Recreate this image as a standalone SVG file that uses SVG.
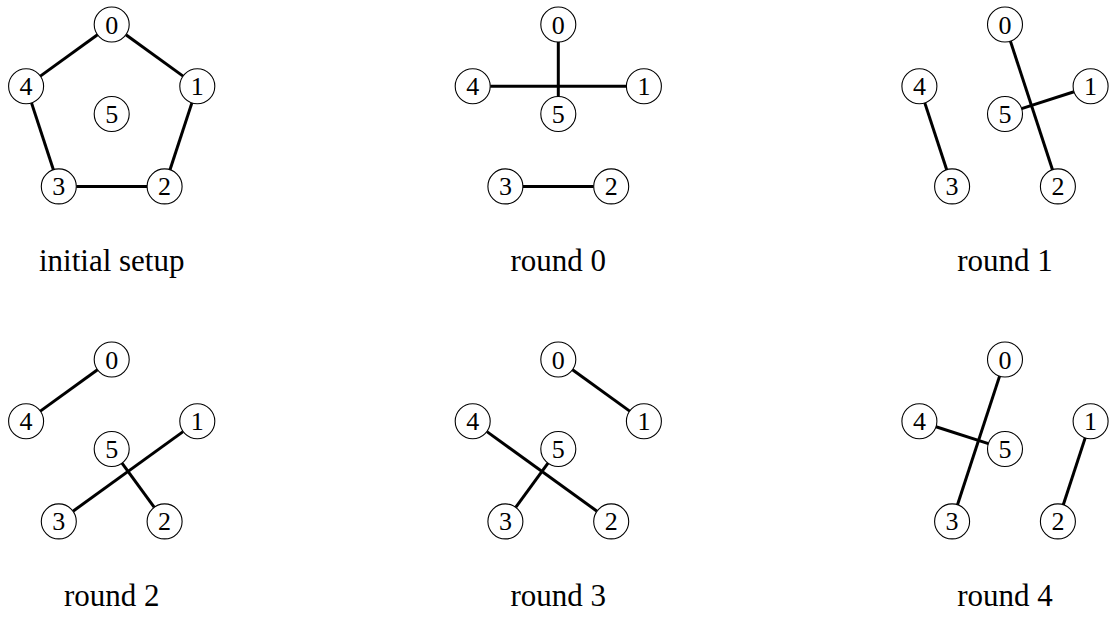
<svg xmlns="http://www.w3.org/2000/svg" width="1110" height="617" viewBox="0 0 1110 617">
  <style>
    .edge { stroke: #000; stroke-width: 3; stroke-linecap: butt; fill: none; }
    .node circle { fill: #fff; stroke: #000; stroke-width: 1.1; }
    .node text { font-family: "Liberation Serif", "DejaVu Serif", serif; font-size: 26px; text-anchor: middle; fill: #000; }
    .caption { font-family: "Liberation Serif", "DejaVu Serif", serif; font-size: 31px; text-anchor: middle; fill: #000; }
  </style>
  <defs>
    <!-- node positions shared by every panel: pentagon 0..4 around centre node 5 -->
  </defs>
  <rect width="1110" height="617" fill="#fff"/>

  <!-- initial setup -->
  <g id="panel-initial" transform="translate(0,0)">
    <g id="edges-initial">
      <line class="edge" x1="125.9" y1="34.7" x2="183.1" y2="76.1"/>
      <line class="edge" x1="191.9" y1="102.9" x2="170.0" y2="169.8"/>
      <line class="edge" x1="147.1" y1="186.4" x2="76.3" y2="186.4"/>
      <line class="edge" x1="53.4" y1="169.8" x2="31.5" y2="102.9"/>
      <line class="edge" x1="40.3" y1="76.1" x2="97.5" y2="34.7"/>
    </g>
    <g id="init-n0" class="node"><circle cx="111.7" cy="24.5" r="17.5"/><text x="111.7" y="33.5">0</text></g>
    <g id="init-n1" class="node"><circle cx="197.3" cy="86.3" r="17.5"/><text x="197.3" y="95.3">1</text></g>
    <g id="init-n2" class="node"><circle cx="164.6" cy="186.4" r="17.5"/><text x="164.6" y="195.4">2</text></g>
    <g id="init-n3" class="node"><circle cx="58.8" cy="186.4" r="17.5"/><text x="58.8" y="195.4">3</text></g>
    <g id="init-n4" class="node"><circle cx="26.1" cy="86.3" r="17.5"/><text x="26.1" y="95.3">4</text></g>
    <g id="init-n5" class="node"><circle cx="111.7" cy="114" r="17.5"/><text x="111.7" y="123">5</text></g>
    <text class="caption" x="111.7" y="271">initial setup</text>
  </g>

  <!-- round 0 -->
  <g id="panel-round0" transform="translate(446.6,0)">
    <g id="edges-round0">
      <line class="edge" x1="111.7" y1="42" x2="111.7" y2="96.5"/>
      <line class="edge" x1="43.6" y1="86.3" x2="179.8" y2="86.3"/>
      <line class="edge" x1="76.3" y1="186.4" x2="147.1" y2="186.4"/>
    </g>
    <g id="r0-n0" class="node"><circle cx="111.7" cy="24.5" r="17.5"/><text x="111.7" y="33.5">0</text></g>
    <g id="r0-n1" class="node"><circle cx="197.3" cy="86.3" r="17.5"/><text x="197.3" y="95.3">1</text></g>
    <g id="r0-n2" class="node"><circle cx="164.6" cy="186.4" r="17.5"/><text x="164.6" y="195.4">2</text></g>
    <g id="r0-n3" class="node"><circle cx="58.8" cy="186.4" r="17.5"/><text x="58.8" y="195.4">3</text></g>
    <g id="r0-n4" class="node"><circle cx="26.1" cy="86.3" r="17.5"/><text x="26.1" y="95.3">4</text></g>
    <g id="r0-n5" class="node"><circle cx="111.7" cy="114" r="17.5"/><text x="111.7" y="123">5</text></g>
    <text class="caption" x="111.7" y="271">round 0</text>
  </g>

  <!-- round 1 -->
  <g id="panel-round1" transform="translate(893.3,0)">
    <g id="edges-round1">
      <line class="edge" x1="117.1" y1="41.1" x2="159.2" y2="169.8"/>
      <line class="edge" x1="128.3" y1="108.6" x2="180.7" y2="91.7"/>
      <line class="edge" x1="31.5" y1="102.9" x2="53.4" y2="169.8"/>
    </g>
    <g id="r1-n0" class="node"><circle cx="111.7" cy="24.5" r="17.5"/><text x="111.7" y="33.5">0</text></g>
    <g id="r1-n1" class="node"><circle cx="197.3" cy="86.3" r="17.5"/><text x="197.3" y="95.3">1</text></g>
    <g id="r1-n2" class="node"><circle cx="164.6" cy="186.4" r="17.5"/><text x="164.6" y="195.4">2</text></g>
    <g id="r1-n3" class="node"><circle cx="58.8" cy="186.4" r="17.5"/><text x="58.8" y="195.4">3</text></g>
    <g id="r1-n4" class="node"><circle cx="26.1" cy="86.3" r="17.5"/><text x="26.1" y="95.3">4</text></g>
    <g id="r1-n5" class="node"><circle cx="111.7" cy="114" r="17.5"/><text x="111.7" y="123">5</text></g>
    <text class="caption" x="111.7" y="271">round 1</text>
  </g>

  <!-- round 2 -->
  <g id="panel-round2" transform="translate(0,335)">
    <g id="edges-round2">
      <line class="edge" x1="97.5" y1="34.7" x2="40.3" y2="76.1"/>
      <line class="edge" x1="73.0" y1="176.2" x2="183.1" y2="96.6"/>
      <line class="edge" x1="122.0" y1="128.1" x2="154.3" y2="172.3"/>
    </g>
    <g id="r2-n0" class="node"><circle cx="111.7" cy="24.5" r="17.5"/><text x="111.7" y="33.5">0</text></g>
    <g id="r2-n1" class="node"><circle cx="197.3" cy="86.3" r="17.5"/><text x="197.3" y="95.3">1</text></g>
    <g id="r2-n2" class="node"><circle cx="164.6" cy="186.4" r="17.5"/><text x="164.6" y="195.4">2</text></g>
    <g id="r2-n3" class="node"><circle cx="58.8" cy="186.4" r="17.5"/><text x="58.8" y="195.4">3</text></g>
    <g id="r2-n4" class="node"><circle cx="26.1" cy="86.3" r="17.5"/><text x="26.1" y="95.3">4</text></g>
    <g id="r2-n5" class="node"><circle cx="111.7" cy="114" r="17.5"/><text x="111.7" y="123">5</text></g>
    <text class="caption" x="111.7" y="271">round 2</text>
  </g>

  <!-- round 3 -->
  <g id="panel-round3" transform="translate(446.6,335)">
    <g id="edges-round3">
      <line class="edge" x1="125.9" y1="34.7" x2="183.1" y2="76.1"/>
      <line class="edge" x1="40.3" y1="96.6" x2="150.4" y2="176.2"/>
      <line class="edge" x1="101.4" y1="128.1" x2="69.1" y2="172.3"/>
    </g>
    <g id="r3-n0" class="node"><circle cx="111.7" cy="24.5" r="17.5"/><text x="111.7" y="33.5">0</text></g>
    <g id="r3-n1" class="node"><circle cx="197.3" cy="86.3" r="17.5"/><text x="197.3" y="95.3">1</text></g>
    <g id="r3-n2" class="node"><circle cx="164.6" cy="186.4" r="17.5"/><text x="164.6" y="195.4">2</text></g>
    <g id="r3-n3" class="node"><circle cx="58.8" cy="186.4" r="17.5"/><text x="58.8" y="195.4">3</text></g>
    <g id="r3-n4" class="node"><circle cx="26.1" cy="86.3" r="17.5"/><text x="26.1" y="95.3">4</text></g>
    <g id="r3-n5" class="node"><circle cx="111.7" cy="114" r="17.5"/><text x="111.7" y="123">5</text></g>
    <text class="caption" x="111.7" y="271">round 3</text>
  </g>

  <!-- round 4 -->
  <g id="panel-round4" transform="translate(893.3,335)">
    <g id="edges-round4">
      <line class="edge" x1="106.3" y1="41.1" x2="64.2" y2="169.8"/>
      <line class="edge" x1="42.7" y1="91.7" x2="95.1" y2="108.6"/>
      <line class="edge" x1="191.9" y1="102.9" x2="170.0" y2="169.8"/>
    </g>
    <g id="r4-n0" class="node"><circle cx="111.7" cy="24.5" r="17.5"/><text x="111.7" y="33.5">0</text></g>
    <g id="r4-n1" class="node"><circle cx="197.3" cy="86.3" r="17.5"/><text x="197.3" y="95.3">1</text></g>
    <g id="r4-n2" class="node"><circle cx="164.6" cy="186.4" r="17.5"/><text x="164.6" y="195.4">2</text></g>
    <g id="r4-n3" class="node"><circle cx="58.8" cy="186.4" r="17.5"/><text x="58.8" y="195.4">3</text></g>
    <g id="r4-n4" class="node"><circle cx="26.1" cy="86.3" r="17.5"/><text x="26.1" y="95.3">4</text></g>
    <g id="r4-n5" class="node"><circle cx="111.7" cy="114" r="17.5"/><text x="111.7" y="123">5</text></g>
    <text class="caption" x="111.7" y="271">round 4</text>
  </g>
</svg>
